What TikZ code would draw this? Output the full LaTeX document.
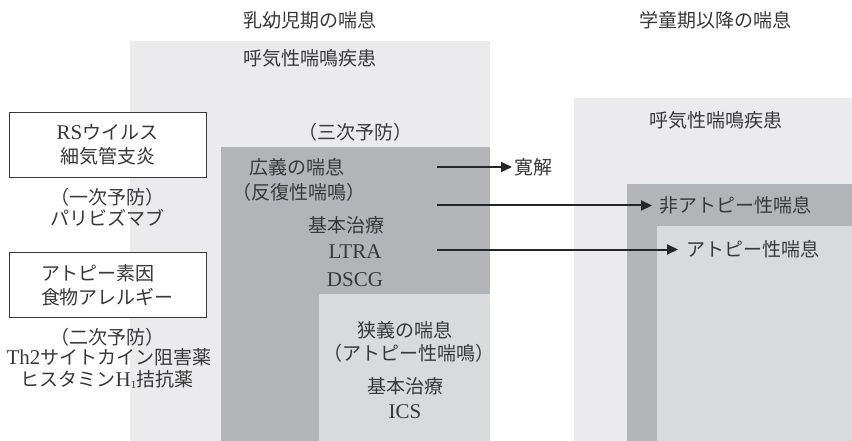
\documentclass[tikz,border=0pt]{standalone}
\usepackage{fontspec}
\setmainfont{Noto Sans CJK JP}
\newfontfamily\lat{Liberation Serif}
\usetikzlibrary{arrows.meta}
\definecolor{bgA}{HTML}{EBEBED}
\definecolor{bgB}{HTML}{B3B4B8}
\definecolor{bgC}{HTML}{D9DADC}
\definecolor{ink}{HTML}{383838}
\newcommand\latn[1]{{\lat\fontsize{21}{24}\selectfont #1}}
\begin{document}
\begin{tikzpicture}[x=1pt,y=-1pt,
  font=\fontsize{19}{24}\selectfont,
  txt/.style={text=ink, inner sep=0pt, align=center},
  box/.style={draw=ink, line width=0.9pt, fill=white, text=ink, align=center,
    minimum width=197pt, minimum height=65pt, inner sep=0pt},
  arr/.style={draw=black!85, line width=2pt, -{Triangle[length=11pt,width=10pt]}}]
\useasboundingbox (0,0) rectangle (852,441);
% backgrounds
\fill[bgA] (130,41) rectangle (490,441);
\fill[bgB] (221,147) rectangle (490,441);
\fill[bgC] (319,294) rectangle (490,441);
\fill[bgA] (574,98) rectangle (852,441);
\fill[bgB] (627,184) rectangle (852,441);
\fill[bgC] (657,226) rectangle (852,441);
% titles
\node[txt] (t1) at (310,20) {乳幼児期の喘息};
\node[txt] (t2) at (715,20) {学童期以降の喘息};
\node[txt] (w1) at (310,58) {呼気性喘鳴疾患};
\node[txt] (w2) at (716,120) {呼気性喘鳴疾患};
% middle column
\node[txt] (p3) at (355,132) {（三次予防）};
\node[txt] (b1) at (297,167) {広義の喘息};
\node[txt] (b2) at (299,192) {（反復性喘鳴）};
\node[txt] (b3) at (346,225) {基本治療};
\node[txt] (b4) at (355,252) {\latn{LTRA}};
\node[txt] (b5) at (355,280) {\latn{DSCG}};
\node[txt] (n1) at (405,330) {狭義の喘息};
\node[txt] (n2) at (409,353) {（アトピー性喘鳴）};
\node[txt] (n3) at (405,386) {基本治療};
\node[txt] (n4) at (405,412) {\latn{ICS}};
% right targets
\node[txt, anchor=west, inner xsep=2pt] (r0) at (512,167) {寛解};
\node[txt, anchor=west, inner xsep=7pt] (r1) at (652,205.5) {非アトピー性喘息};
\node[txt, anchor=west, inner xsep=8pt] (r2) at (678,249.5) {アトピー性喘息};
% left column
\node[box] (k1) at (107.5,144.5) {\latn{RS}ウイルス\\細気管支炎};
\node[txt] (k1a) at (107,197) {（一次予防）};
\node[txt] (k1b) at (107,218) {パリビズマブ};
\node[box, align=left] (k2) at (107.5,285) {アトピー素因\\食物アレルギー};
\node[txt] (k2a) at (107,337) {（二次予防）};
\node[txt] (k2b) at (109,357) {\latn{Th2}サイトカイン阻害薬};
\node[txt] (k2c) at (107,379) {ヒスタミン\latn{H}\smash{\raisebox{-2pt}{\lat\fontsize{11}{11}\selectfont 1}}拮抗薬};
% arrows
\coordinate (a1) at (437,167);
\coordinate (a2) at (437,205.5);
\coordinate (a3) at (437,249.5);
\draw[arr] (a1) -- (r0.west);
\draw[arr] (a2) -- (r1.west);
\draw[arr] (a3) -- (r2.west);
\end{tikzpicture}
\end{document}
